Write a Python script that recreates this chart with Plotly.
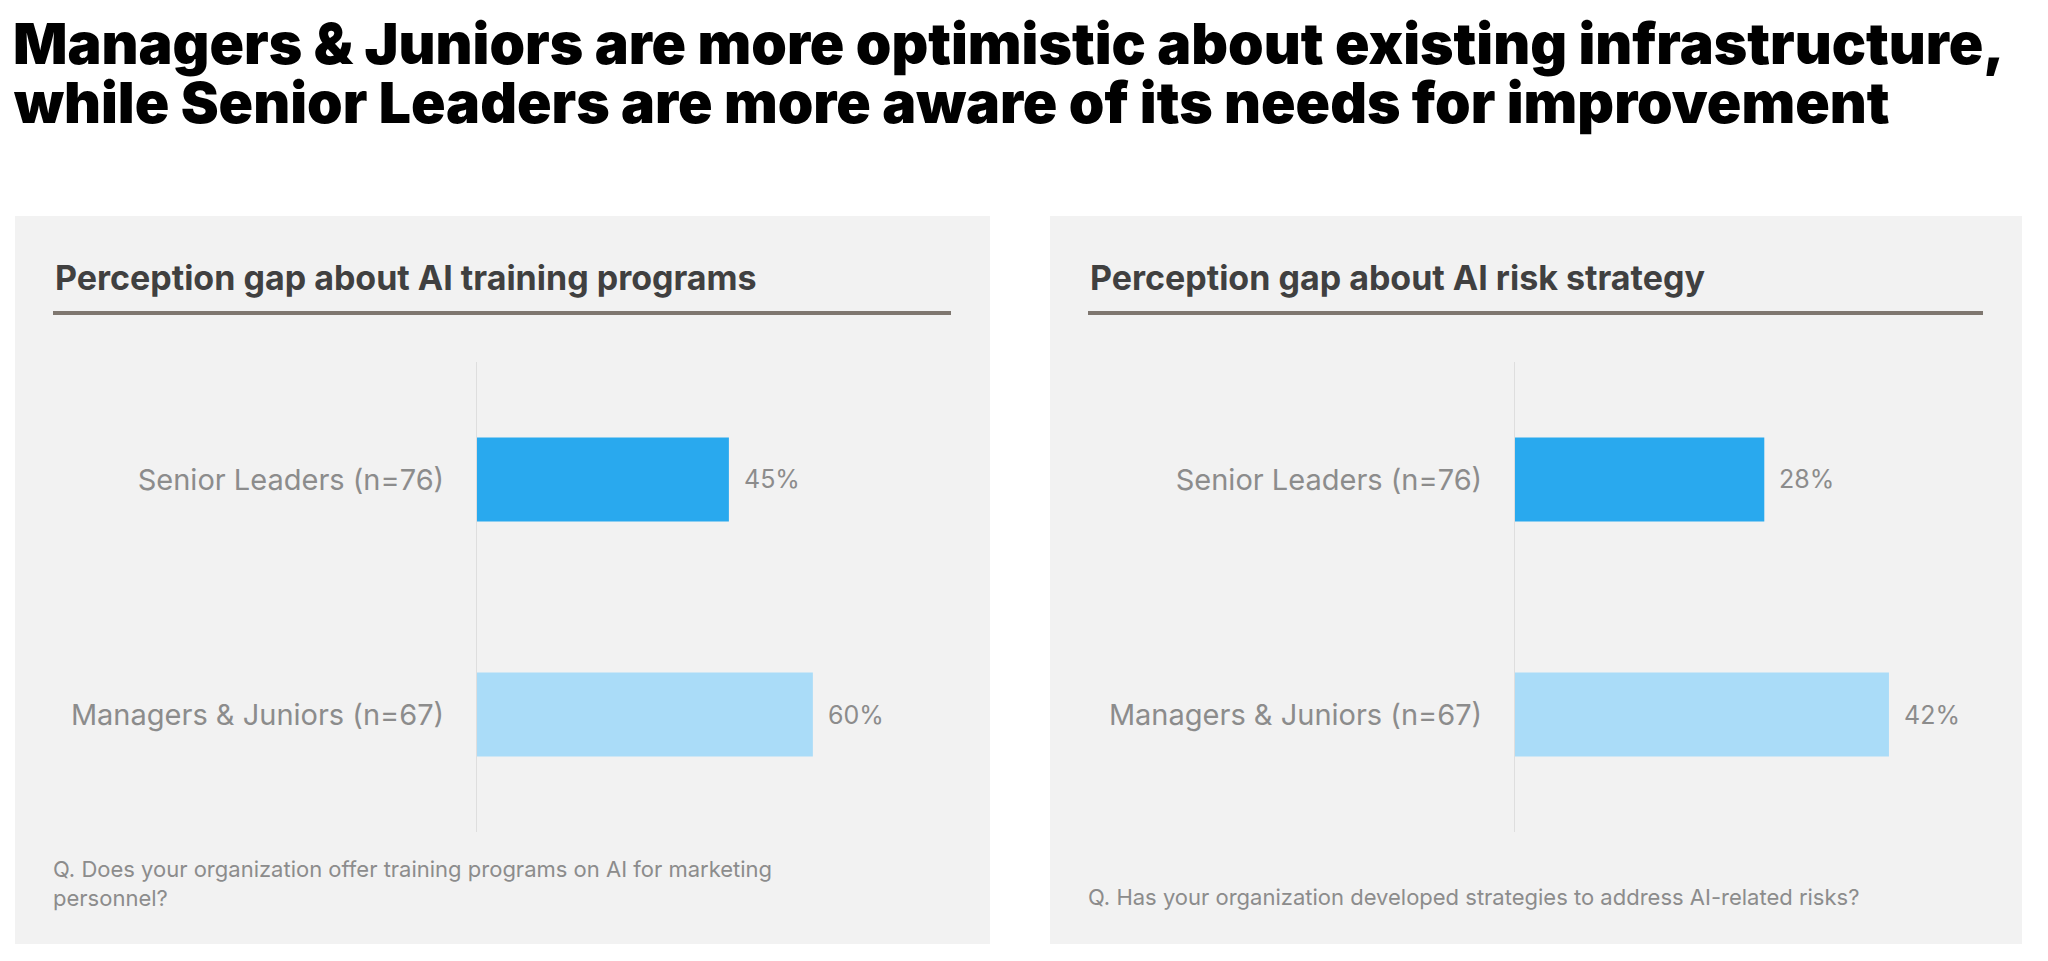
import plotly.graph_objects as go

# data
groups = ["Senior Leaders (n=76)", "Managers & Juniors (n=67)"]
training = [45, 60]
risk = [28, 42]
panel_titles = ["Perception gap about AI training programs", "Perception gap about AI risk strategy"]
questions = [
    "Q. Does your organization offer training programs on AI for marketing<br>personnel?",
    "Q. Has your organization developed strategies to address AI-related risks?",
]
title_lines = [
    "Managers & Juniors are more optimistic about existing infrastructure,",
    "while Senior Leaders are more aware of its needs for improvement",
]

bar_colors = ["#29a9ee", "#aadcf8"]
label_grey = "#8c8c8c"
font = "Inter, Roboto, sans-serif"

# the page body has an 8px margin, so work in screen pixels and shift
W, H, OFF = 2040, 953, 8


def px(x):
    return (x - OFF) / W


def py(y):
    return 1 - (y - OFF) / H


fig = go.Figure()

fig.add_trace(go.Bar(x=training, y=groups, orientation="h", width=0.357,
                     marker=dict(color=bar_colors, line=dict(width=0)),
                     xaxis="x", yaxis="y", hoverinfo="skip"))
fig.add_trace(go.Bar(x=risk, y=groups, orientation="h", width=0.357,
                     marker=dict(color=bar_colors, line=dict(width=0)),
                     xaxis="x2", yaxis="y2", hoverinfo="skip"))

shapes = []
annotations = []

panels = [(15, 990), (1050, 2022)]
for i, (x0, x1) in enumerate(panels):
    shapes.append(dict(type="rect", xref="paper", yref="paper", x0=px(x0), x1=px(x1),
                       y0=py(944), y1=py(216), fillcolor="#f2f2f2", line=dict(width=0),
                       layer="below"))
    lx0, lx1 = x0 + 38, x1 - 39
    shapes.append(dict(type="line", xref="paper", yref="paper", x0=px(lx0), x1=px(lx1),
                       y0=py(313), y1=py(313), line=dict(color="#7f7770", width=4)))
    annotations.append(dict(text=panel_titles[i], xref="paper", yref="paper",
                            x=px(lx0), y=py(277), xanchor="left", yanchor="middle",
                            showarrow=False,
                            font=dict(family=font, size=34, color="#404040", weight=700)))
    annotations.append(dict(text=questions[i], xref="paper", yref="paper",
                            x=px(lx0 - 2), y=py(883 if i == 0 else 897),
                            xanchor="left", yanchor="middle", align="left",
                            showarrow=False,
                            font=dict(family=font, size=22, color=label_grey)))

# value labels next to the bars
for xa, ya, vals in [("x", "y", training), ("x2", "y2", risk)]:
    for g, v in zip(groups, vals):
        annotations.append(dict(text=f"{v}%", x=v, y=g, xref=xa, yref=ya,
                                xanchor="left", yanchor="middle", xshift=13,
                                showarrow=False,
                                font=dict(family=font, size=25, color=label_grey)))

# main title, one annotation per line to keep the tight leading
for line, yc in zip(title_lines, [43, 103]):
    annotations.append(dict(text=line, xref="paper", yref="paper", x=px(11), y=py(yc),
                            xanchor="left", yanchor="middle", showarrow=False,
                            font=dict(family=font, size=57, color="#000000", weight=900)))

yaxis_common = dict(type="category", range=[1.5, -0.5], showgrid=False,
                    showline=True, linecolor="#dedede", linewidth=1,
                    ticks="outside", ticklen=26, tickcolor="rgba(0,0,0,0)",
                    tickfont=dict(family=font, size=29, color=label_grey),
                    domain=[py(832), py(362)], fixedrange=True)
xaxis_common = dict(showgrid=False, zeroline=False, showline=False,
                    showticklabels=False, fixedrange=True)

fig.update_layout(
    width=W, height=H,
    margin=dict(l=0, r=0, t=0, b=0),
    paper_bgcolor="#ffffff", plot_bgcolor="rgba(0,0,0,0)",
    showlegend=False,
    xaxis=dict(xaxis_common, domain=[px(477), px(950)], range=[0, 84.5], anchor="y"),
    yaxis=dict(yaxis_common, anchor="x"),
    xaxis2=dict(xaxis_common, domain=[px(1515), px(1986)], range=[0, 52.9], anchor="y2"),
    yaxis2=dict(yaxis_common, anchor="x2"),
    shapes=shapes,
    annotations=annotations,
)

fig.write_html("out.html")
